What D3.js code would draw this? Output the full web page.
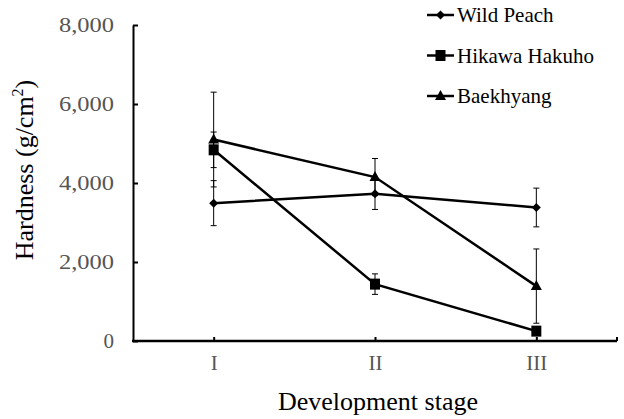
<!DOCTYPE html>
<html>
<head>
<meta charset="utf-8">
<script src="https://cdn.jsdelivr.net/npm/d3@7/dist/d3.min.js"></script>
<style>
body { margin: 0; background: #fff; }
svg { display: block; }
svg text { font-family: "Liberation Serif", "DejaVu Serif", "Times New Roman", serif; }
</style>
</head>
<body>
<svg></svg>
<script>
// stages and series
var stages = ["I", "II", "III"]
var stageLabels = ["I", "II", "III"]
var yTicks = [0, 2000, 4000, 6000, 8000]

var wildPeach = [3490, 3730, 3380]
var wildPeachErr = [570, 400, 490]
var hikawa = [4840, 1440, 250]
var hikawaErr = [450, 260, 100]
var baekhyang = [5100, 4150, 1390]
var baekhyangErr = [1200, 470, 940]

var seriesNames = ["Wild Peach", "Hikawa Hakuho", "Baekhyang"]
var seriesMarks = ["diamond", "square", "triangle"]

var screen = {width: 624, height: 419}
var plot = {left: 133, right: 617, top: 25, bottom: 341}

var series = [
    {name: seriesNames[0], mark: seriesMarks[0], values: wildPeach, errs: wildPeachErr},
    {name: seriesNames[1], mark: seriesMarks[1], values: hikawa, errs: hikawaErr},
    {name: seriesNames[2], mark: seriesMarks[2], values: baekhyang, errs: baekhyangErr}
]

var svg = d3.select("svg")
    .attr("width", screen.width)
    .attr("height", screen.height)

var xScale = d3.scalePoint()
    .domain(stages)
    .range([plot.left, plot.right])
    .padding(0.5)

var yScale = d3.scaleLinear()
    .domain([0, 8000])
    .range([plot.bottom, plot.top])

// y axis
var yAxis = d3.axisLeft(yScale)
    .tickValues(yTicks)
    .tickFormat(d3.format(","))
    .tickSizeInner(-5)
    .tickSizeOuter(0)
    .tickPadding(19)

var gy = svg.append("g")
    .attr("transform", "translate(" + plot.left + ",0)")
    .call(yAxis)
    .attr("font-family", null)
gy.select(".domain").attr("stroke", "#000").attr("stroke-width", 2)
gy.selectAll(".tick line").attr("stroke", "#000").attr("stroke-width", 2)
gy.selectAll(".tick text")
    .style("font-size", "21px")
    .attr("fill", "#555")
    .attr("textLength", function(d){ return d == 0 ? null : 55 })
    .attr("lengthAdjust", "spacingAndGlyphs")

// x axis
var xAxis = d3.axisBottom(xScale)
    .tickFormat(function(d, i){ return stageLabels[i] })
    .tickSizeInner(-4)
    .tickSizeOuter(0)
    .tickPadding(14)

var gx = svg.append("g")
    .attr("transform", "translate(0," + plot.bottom + ")")
    .call(xAxis)
    .attr("font-family", null)
gx.select(".domain").attr("stroke", "#000").attr("stroke-width", 2.5)
    .attr("d", "M" + (plot.left - 1) + ",0H" + plot.right)
gx.selectAll(".tick line").attr("stroke", "#000").attr("stroke-width", 2)
gx.selectAll(".tick text")
    .style("font-size", "21px")
    .attr("fill", "#555")
gx.append("line")
    .attr("x1", plot.right).attr("x2", plot.right)
    .attr("y1", 0).attr("y2", -4)
    .attr("stroke", "#000").attr("stroke-width", 2)

// axis titles
svg.append("text")
    .attr("x", (plot.left + plot.right) / 2 + 3)
    .attr("y", 410)
    .attr("text-anchor", "middle")
    .style("font-size", "26px")
    .attr("fill", "#000")
    .text("Development stage")

var yTitle = svg.append("text")
    .attr("transform", "translate(33,170) rotate(-90)")
    .attr("text-anchor", "middle")
    .style("font-size", "26px")
    .attr("fill", "#000")
yTitle.append("tspan").text("Hardness (g/cm")
yTitle.append("tspan").style("font-size", "16px").attr("dy", -10).text("2")
yTitle.append("tspan").attr("dy", 10).text(")")

// marker shapes
var markerPath = function(mark, cx, cy)
    {
        if (mark == "diamond")
            return "M" + cx + "," + (cy - 4.5) + "L" + (cx + 4.5) + "," + cy + "L" + cx + "," + (cy + 4.5) + "L" + (cx - 4.5) + "," + cy + "Z"
        if (mark == "square")
            return "M" + (cx - 5) + "," + (cy - 5.5) + "h10v11h-10Z"
        return "M" + cx + "," + (cy - 6) + "L" + (cx + 5.5) + "," + (cy + 4) + "L" + (cx - 5.5) + "," + (cy + 4) + "Z"
    }

var line = d3.line()
    .x(function(d){ return xScale(d.stage) })
    .y(function(d){ return yScale(d.value) })

series.forEach(function(s)
    {
        var pts = s.values.map(function(v, i){ return {stage: stages[i], value: v, err: s.errs[i]} })

        var g = svg.append("g")

        // error bars
        pts.forEach(function(p)
            {
                var cx = xScale(p.stage)
                var hi = p.value + p.err
                var lo = Math.max(0, p.value - p.err)
                g.append("line")
                    .attr("x1", cx).attr("x2", cx)
                    .attr("y1", yScale(hi)).attr("y2", yScale(lo))
                    .attr("stroke", "#000").attr("stroke-width", 1)
                g.append("line")
                    .attr("x1", cx - 3).attr("x2", cx + 3)
                    .attr("y1", yScale(hi)).attr("y2", yScale(hi))
                    .attr("stroke", "#000").attr("stroke-width", 1)
                if (p.value - p.err > 0)
                    g.append("line")
                        .attr("x1", cx - 3).attr("x2", cx + 3)
                        .attr("y1", yScale(lo)).attr("y2", yScale(lo))
                        .attr("stroke", "#000").attr("stroke-width", 1)
            })

        g.append("path")
            .datum(pts)
            .attr("d", line)
            .attr("fill", "none")
            .attr("stroke", "#000")
            .attr("stroke-width", 2.5)

        g.selectAll("path.mark")
            .data(pts)
            .enter()
            .append("path")
            .attr("class", "mark")
            .attr("d", function(p){ return markerPath(s.mark, xScale(p.stage), yScale(p.value)) })
            .attr("fill", "#000")
    })

// legend
var legend = svg.append("g")
series.forEach(function(s, i)
    {
        var ly = 15 + i * 40.5
        legend.append("line")
            .attr("x1", 427).attr("x2", 454)
            .attr("y1", ly).attr("y2", ly)
            .attr("stroke", "#000").attr("stroke-width", 2.5)
        legend.append("path")
            .attr("d", markerPath(s.mark, 440.5, ly))
            .attr("fill", "#000")
        legend.append("text")
            .attr("x", 457)
            .attr("y", ly + 7)
            .style("font-size", "21px")
            .attr("fill", "#000")
            .text(s.name)
    })
</script>
</body>
</html>
